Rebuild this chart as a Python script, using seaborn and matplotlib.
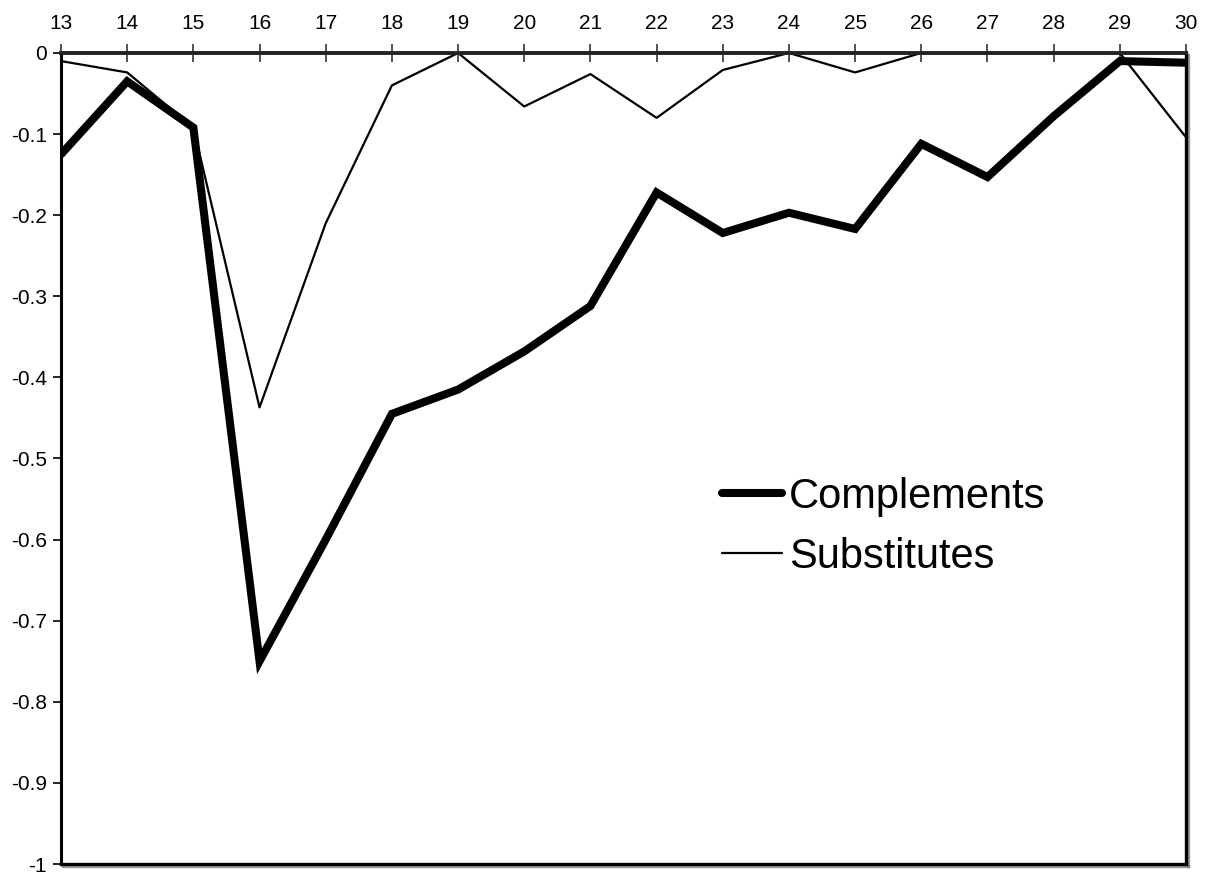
import numpy as np
import pandas as pd
import matplotlib
matplotlib.use("Agg")
import matplotlib.pyplot as plt
import matplotlib.patheffects as pe
import seaborn as sns

periods = list(range(13, 31))
complements = [-0.125, -0.035, -0.092, -0.750, -0.600, -0.445, -0.415, -0.368, -0.312,
               -0.172, -0.222, -0.197, -0.217, -0.112, -0.153, -0.078, -0.010, -0.012]
substitutes = [-0.010, -0.024, -0.092, -0.437, -0.210, -0.040, 0.000, -0.066, -0.026,
               -0.080, -0.021, 0.000, -0.024, 0.000, 0.000, 0.000, 0.000, -0.104]
yticks = [0, -0.1, -0.2, -0.3, -0.4, -0.5, -0.6, -0.7, -0.8, -0.9, -1]
ytick_labels = ["0", "-0.1", "-0.2", "-0.3", "-0.4", "-0.5", "-0.6", "-0.7", "-0.8", "-0.9", "-1"]

sns.set_theme(style="white")
plt.rcParams['font.family'] = ['Liberation Sans', 'DejaVu Sans']
plt.rcParams['text.color'] = 'black'
plt.rcParams['xtick.color'] = 'black'
plt.rcParams['ytick.color'] = 'black'

fig = plt.figure(figsize=(12.08, 8.77), dpi=100)
ax = fig.add_axes([0.0505, 0.0148, 0.9313, 0.9248])

df_c = pd.DataFrame({"x": periods, "y": complements})
df_s = pd.DataFrame({"x": periods, "y": substitutes})
sns.lineplot(data=df_c, x="x", y="y", ax=ax, color="black", linewidth=5.8,
             label="Complements", solid_joinstyle="miter")
sns.lineplot(data=df_s, x="x", y="y", ax=ax, color="black", linewidth=1.6,
             label="Substitutes")

ax.set_xlim(13, 30)
ax.set_ylim(-1, 0)
ax.set_xticks(periods)
ax.set_xticklabels([str(p) for p in periods])
ax.set_yticks(yticks)
ax.set_yticklabels(ytick_labels)
ax.set_xlabel("")
ax.set_ylabel("")
ax.xaxis.tick_top()
ax.tick_params(axis="x", which="both", direction="inout", length=13, width=1.2,
               color="#333333", labelcolor="black", labelsize=15, pad=8, top=True, bottom=False)
ax.tick_params(axis="y", which="both", direction="out", length=6, width=1.2,
               color="black", labelcolor="black", labelsize=15, pad=4, left=True)

for name, sp in ax.spines.items():
    sp.set_visible(True)
    sp.set_color("black")
ax.spines["left"].set_linewidth(2.2)
ax.spines["top"].set_linewidth(2.8)
ax.spines["top"].set_color("#222222")
for name in ["right", "bottom"]:
    ax.spines[name].set_linewidth(2.4)
    ax.spines[name].set_path_effects([pe.SimpleLineShadow(offset=(1.2, -1.2), shadow_color="gray", alpha=0.8),
                                      pe.Normal()])

leg = ax.legend(loc="center left", bbox_to_anchor=(0.5876, 0.4155), frameon=False,
                fontsize=30, handlelength=1.45, handletextpad=0.15, labelspacing=0.48,
                borderaxespad=0, borderpad=0)
for t in leg.get_texts():
    t.set_color("black")

fig.savefig("out.png", dpi=100, facecolor="white")
